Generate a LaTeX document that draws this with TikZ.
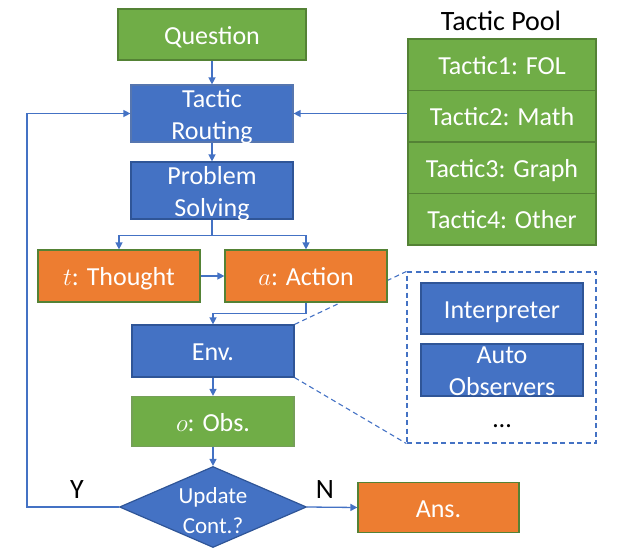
\documentclass[tikz,border=0pt]{standalone}
\usepackage{fontspec}
\setmainfont{Carlito}
\usetikzlibrary{shapes.geometric,arrows.meta,backgrounds}
\definecolor{cgreen}{HTML}{70AD47}
\definecolor{cgreenb}{HTML}{548235}
\definecolor{cblue}{HTML}{4472C4}
\definecolor{cblueb}{HTML}{2F5597}
\definecolor{corange}{HTML}{ED7D31}
\definecolor{cline}{HTML}{4472C4}
\newcommand{\lw}[1]{\raisebox{-9.5pt}[0pt][0pt]{\begin{tabular}{@{}c@{}}#1\end{tabular}}}
\tikzset{
  box/.style={draw, line width=1.2pt, inner sep=0pt, text=white,
    font=\fontsize{26}{32}\selectfont},
  gbox/.style={box, fill=cgreen, draw=cgreenb},
  bbox/.style={box, fill=cblue, draw=cblueb},
  obox/.style={box, fill=corange, draw=cgreenb},
  conn/.style={draw=cline, line width=1.3pt, -{Triangle[width=7pt,length=7pt]}},
  dashln/.style={draw=cline, line width=1.1pt, dash pattern=on 5pt off 3.5pt},
  lbl/.style={font=\fontsize{28}{32}\selectfont, text=black, inner sep=0pt}
}
\begin{document}
\begin{tikzpicture}[x=1pt,y=-1pt]
\useasboundingbox (0,0) rectangle (625,560);
% main column
\node[gbox, minimum width=188pt, minimum height=51pt] (q) at (212,34.5) {\lw{Question}};
\node[bbox, draw=cblue!70!gray, minimum width=162pt, minimum height=57pt] (tr) at (212,113.5) {\lw{Tactic\\Routing}};
\node[bbox, minimum width=162pt, minimum height=57pt] (ps) at (212,190.5) {\lw{Problem\\Solving}};
\node[obox, minimum width=162pt, minimum height=52pt] (th) at (119,276) {\lw{$t$: Thought}};
\node[obox, minimum width=162pt, minimum height=52pt] (ac) at (306,276) {\lw{$a$: Action}};
\node[bbox, minimum width=162pt, minimum height=52pt] (env) at (213,351) {\lw{Env.}};
\node[gbox, draw=cgreen!70!gray, minimum width=162pt, minimum height=50pt] (obs) at (213,421.5) {\lw{$o$: Obs.}};
\node[diamond, draw=cblueb, fill=cblue, line width=1.2pt, inner sep=0pt,
      minimum width=187pt, minimum height=81pt] (dec) at (213,507) {};
\node[text=white, align=center, inner sep=0pt, font=\fontsize{23}{30}\selectfont] (dect) at (213,511) {Update\\Cont.?};
\node[obox, minimum width=161pt, minimum height=50pt] (ans) at (438.5,507.5) {\lw{Ans.}};
% tactic pool
\node[lbl] (pooltitle) at (501,21) {Tactic Pool};
\node[gbox, minimum width=188pt, minimum height=51.5pt] (t1) at (502,64.75) {\lw{Tactic1: FOL}};
\node[gbox, minimum width=188pt, minimum height=51.5pt] (t2) at (502,116.25) {\lw{Tactic2: Math}};
\node[gbox, minimum width=188pt, minimum height=51.5pt] (t3) at (502,167.75) {\lw{Tactic3: Graph}};
\node[gbox, minimum width=188pt, minimum height=51.5pt] (t4) at (502,219.25) {\lw{Tactic4: Other}};
% environment detail
\node[draw=cline, line width=1.1pt, dash pattern=on 5pt off 3.5pt,
      minimum width=189pt, minimum height=171pt, inner sep=0pt] (det) at (501.5,357.5) {};
\node[bbox, minimum width=162pt, minimum height=51pt] (interp) at (502,308.5) {\lw{Interpreter}};
\node[bbox, minimum width=162pt, minimum height=52pt] (auto) at (502,370) {\lw{Auto\\Observers}};
\node[lbl, font=\fontsize{26}{30}\selectfont] (dots) at (502,426) {\dots};
% labels
\node[lbl] (ylab) at (77,490) {Y};
\node[lbl] (nlab) at (325,490) {N};
% connectors
\begin{scope}[on background layer]
\draw[dashln] (env.north east) -- (det.north west);
\draw[dashln] (env.south east) -- (det.south west);
\end{scope}
\draw[conn] (q) -- (tr);
\draw[conn] (tr) -- (ps);
\draw[conn] (ps.south) -- ++(0,16) -| (th.north);
\draw[conn] (ps.south) -- ++(0,16) -| (ac.north);
\draw[conn] (th) -- (ac);
\draw[conn] (ac.south) -- ++(0,11) -| (env.north);
\draw[conn] (env) -- (obs);
\draw[conn] (obs) -- (dec.north);
\draw[conn] (dec.east) -- (ans.west);
\coordinate (loopc) at (27,507);
\draw[conn] (dec.west) -- (loopc) |- (tr.west);
\draw[conn] (tr.east -| t2.west) -- (tr.east);
\end{tikzpicture}
\end{document}
